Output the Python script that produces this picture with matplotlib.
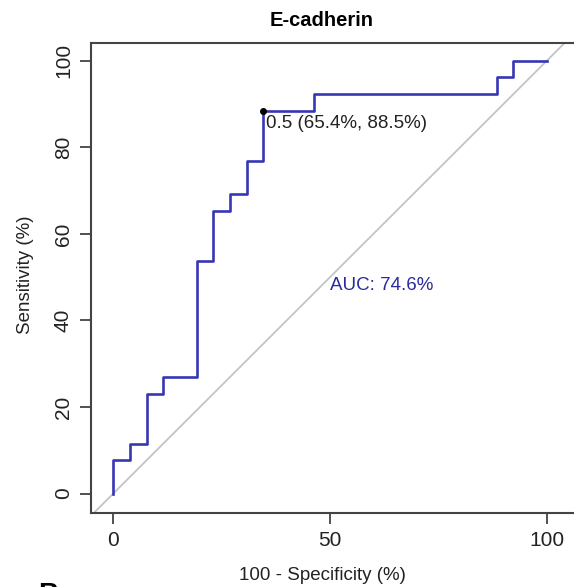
import matplotlib
matplotlib.use("Agg")
import matplotlib.pyplot as plt
from matplotlib import font_manager

# ROC curve corners (x = 100 - specificity, y = sensitivity)
fpr = [0, 0, 3.85, 3.85, 7.69, 7.69, 11.5, 11.5, 19.2, 19.2, 23.1, 23.1,
       26.9, 26.9, 30.8, 30.8, 34.6, 34.6, 46.2, 46.2, 88.5, 88.5, 92.3, 92.3, 100]
tpr = [0, 7.69, 7.69, 11.5, 11.5, 23.1, 23.1, 26.9, 26.9, 53.8, 53.8, 65.4,
       65.4, 69.2, 69.2, 76.9, 76.9, 88.5, 88.5, 92.3, 92.3, 96.2, 96.2, 100, 100]
best_x, best_y = 34.6, 88.5
best_label = "0.5 (65.4%, 88.5%)"
auc_label = "AUC: 74.6%"
ticks = [0, 50, 100]
yticks = [0, 20, 40, 60, 80, 100]

names = {f.name for f in font_manager.fontManager.ttflist}
narrow = "Liberation Sans Narrow" if "Liberation Sans Narrow" in names else "Liberation Sans"
nsize = 15 if narrow == "Liberation Sans Narrow" else 13.5
plt.rcParams["font.family"] = "Liberation Sans"

fig = plt.figure(figsize=(5.74, 5.87), dpi=100)
ax = fig.add_axes([0.1585, 0.1261, 0.8415, 0.8012])

ax.axline((0, 0), (100, 100), color="#c4c4c4", lw=1.3, zorder=1)
ax.plot(fpr, tpr, color="#3636b4", lw=1.9, zorder=2)
ax.plot([best_x], [best_y], "o", color="black", ms=4, zorder=3)
ax.text(best_x + 0.6, best_y - 1.0, best_label, ha="left", va="top",
        fontsize=nsize, family=narrow, color="#222222")
ax.text(50, 50, auc_label, ha="left", va="top", fontsize=nsize, family=narrow,
        color="#2a2a9c")

ax.set_xlim(-5.15, 106.3)
ax.set_ylim(-4.5, 104.2)
ax.set_xticks(ticks)
ax.set_yticks(yticks)
ax.set_yticklabels([str(t) for t in yticks], rotation=90, va="center")
ax.tick_params(axis="both", labelsize=15, length=8, width=1.2, color="#333333",
               pad=5, labelcolor="#222222")

for side in ["left", "bottom", "top"]:
    ax.spines[side].set_linewidth(1.5)
    ax.spines[side].set_color("#444444")
ax.spines["right"].set_visible(False)

fig.text(322 / 574, 1 - 20 / 587, "E-cadherin", ha="center", va="center",
         fontsize=14.5, fontweight="bold")
fig.text(322 / 574, 1 - 576 / 587, "100 - Specificity (%)", ha="center",
         va="center", fontsize=nsize, family=narrow, color="#222222")
fig.text(25 / 574, 1 - 275 / 587, "Sensitivity (%)", ha="center", va="center",
         rotation=90, fontsize=nsize, family=narrow, color="#222222")
fig.text(38 / 574, 1 - 582 / 587, "B", ha="left", va="top", fontsize=20,
         fontweight="bold")

fig.savefig("out.png", dpi=100)
